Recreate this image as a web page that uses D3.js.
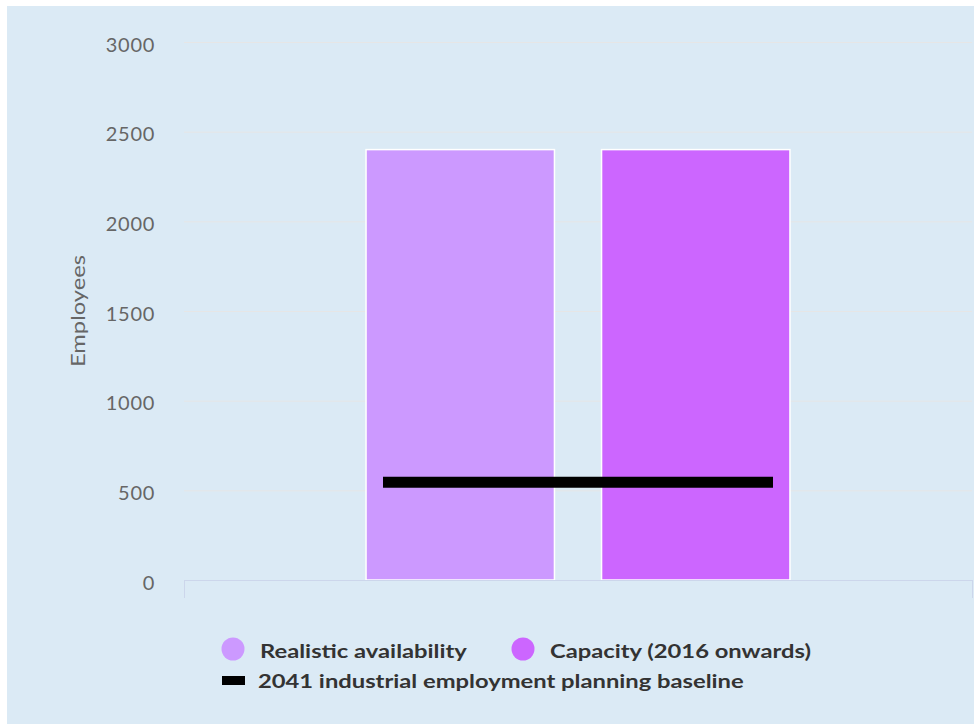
<!DOCTYPE html>
<html>
<head>
<meta charset="utf-8">
<script src="https://cdn.jsdelivr.net/npm/d3@7"></script>
<style>
  html, body { margin: 0; padding: 0; background: #fff; }
  svg { display: block; font-family: Lato, "Open Sans", sans-serif; }
</style>
</head>
<body>
<svg id="chart" width="974" height="724"></svg>
<script>
// Chart data
const categories = ['Total'];
const seriesNames = ['Realistic availability', 'Capacity (2016 onwards)'];
const seriesColors = ['#cc99ff', '#cc66ff'];
const seriesValues = [[2400], [2400]];
const baselineName = '2041 industrial employment planning baseline';
const baselineValues = [545];
const yTicks = [0, 500, 1000, 1500, 2000, 2500, 3000];

const W = 974, H = 724;
const plot = { left: 184, right: 972, top: 42, bottom: 580 };
// the source font renders wider than Lato, so stretch text a little
const TEXT_STRETCH = 1.25;

const svg = d3.select('#chart');

// Background panel
svg.append('rect')
  .attr('x', 7).attr('y', 6)
  .attr('width', W - 7).attr('height', H - 6)
  .attr('fill', '#dbeaf5');

const y = d3.scaleLinear().domain([0, 3000]).range([plot.bottom, plot.top]);

const x0 = d3.scaleBand()
  .domain(categories)
  .range([plot.left, plot.right]);

const x1 = d3.scaleBand()
  .domain(seriesNames)
  .range([0, x0.bandwidth()])
  .paddingInner(0.2)
  .paddingOuter(0.773);

// Gridlines
svg.append('g')
  .selectAll('line')
  .data(yTicks.filter(d => d > 0))
  .join('line')
  .attr('x1', plot.left).attr('x2', plot.right)
  .attr('y1', d => y(d) + 0.5).attr('y2', d => y(d) + 0.5)
  .attr('stroke', '#e6e6e6')
  .attr('stroke-width', 1);

// Y axis labels
const yAxis = d3.axisLeft(y).tickValues(yTicks).tickFormat(d3.format('d')).tickSize(0).tickPadding(0);
const gy = svg.append('g')
  .attr('transform', `translate(155,0)`)
  .call(yAxis);
gy.select('.domain').remove();
gy.selectAll('text')
  .attr('font-family', 'Lato, sans-serif')
  .attr('font-size', 20)
  .attr('letter-spacing', 0.7)
  .attr('fill', '#666')
  .attr('dy', '0.45em');

// Y axis title
svg.append('text')
  .attr('transform', `translate(85,${(plot.top + plot.bottom) / 2}) rotate(-90) scale(${TEXT_STRETCH},1)`)
  .attr('text-anchor', 'middle')
  .attr('font-size', 19)
  .attr('fill', '#666')
  .text('Employees');

// Bars
const groups = svg.append('g')
  .selectAll('g')
  .data(categories)
  .join('g')
  .attr('transform', d => `translate(${x0(d)},0)`);

groups.selectAll('rect')
  .data((d, ci) => seriesNames.map((s, si) => ({ s, v: seriesValues[si][ci], c: seriesColors[si] })))
  .join('rect')
  .attr('x', d => x1(d.s))
  .attr('y', d => y(d.v))
  .attr('width', x1.bandwidth())
  .attr('height', d => y(0) - y(d.v))
  .attr('fill', d => d.c)
  .attr('stroke', '#ffffff')
  .attr('stroke-width', 1.5);

// Baseline marker
const groupSpan = x1(seriesNames[1]) + x1.bandwidth() - x1(seriesNames[0]);
groups.append('line')
  .attr('x1', (d, i) => x0.bandwidth() / 2 - groupSpan * 0.46)
  .attr('x2', (d, i) => x0.bandwidth() / 2 + groupSpan * 0.46)
  .attr('y1', (d, i) => y(baselineValues[i]))
  .attr('y2', (d, i) => y(baselineValues[i]))
  .attr('stroke', '#000')
  .attr('stroke-width', 11);

// X axis line + edge ticks
const gx = svg.append('g');
gx.append('line')
  .attr('x1', plot.left).attr('x2', plot.right)
  .attr('y1', plot.bottom + 0.5).attr('y2', plot.bottom + 0.5)
  .attr('stroke', '#ccd6eb');
gx.selectAll('.tick')
  .data([plot.left, plot.right])
  .join('line')
  .attr('class', 'tick')
  .attr('x1', d => d + 0.5).attr('x2', d => d + 0.5)
  .attr('y1', plot.bottom).attr('y2', plot.bottom + 18)
  .attr('stroke', '#ccd6eb');

// Legend
const legend = svg.append('g')
  .attr('font-weight', 'bold')
  .attr('font-size', 19)
  .attr('fill', '#333');
const legendItems = [
  { name: seriesNames[0], color: seriesColors[0], x: 233, y: 649 },
  { name: seriesNames[1], color: seriesColors[1], x: 523, y: 649 }
];
legendItems.forEach(it => {
  legend.append('circle').attr('cx', it.x).attr('cy', it.y).attr('r', 11.5).attr('fill', it.color);
  legend.append('text')
    .attr('transform', `translate(${it.x + 27},${it.y + 9}) scale(${TEXT_STRETCH},1)`)
    .text(it.name);
});
legend.append('rect').attr('x', 222).attr('y', 676).attr('width', 23).attr('height', 9).attr('fill', '#000');
legend.append('text')
  .attr('transform', `translate(258,688) scale(${TEXT_STRETCH},1)`)
  .text(baselineName);
</script>
</body>
</html>
